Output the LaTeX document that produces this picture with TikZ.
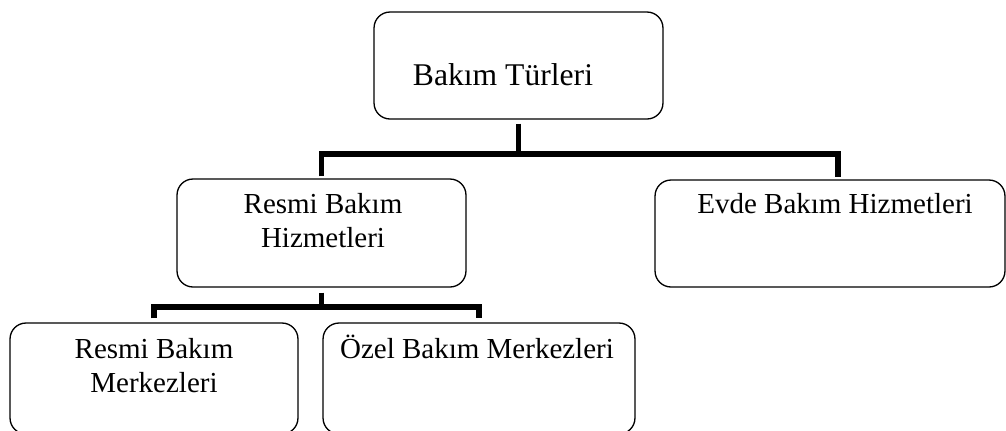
\documentclass[tikz,border=0pt]{standalone}
\usepackage{fontspec}
\setmainfont{Liberation Serif}
\usepackage{tikz}

\begin{document}
\begin{tikzpicture}[x=0.02cm,y=-0.02cm,
  kutu/.style={draw,line width=0.75pt,rounded corners=0.32cm,inner sep=0},
  yazi/.style={inner sep=0,align=center,font=\fontsize{16.5}{19.4}\selectfont},
  bag/.style={line width=3.4pt}]
  \useasboundingbox (0,0) rectangle (1006,430);
  % kutular
  \node[kutu,minimum width=5.78cm,minimum height=2.14cm] (tur) at (518.5,65.5) {};
  \node[kutu,minimum width=5.78cm,minimum height=2.16cm] (rbh) at (321.5,233) {};
  \node[kutu,minimum width=7.0cm,minimum height=2.14cm] (evde) at (830,233.5) {};
  \node[kutu,minimum width=5.76cm,minimum height=2.22cm] (rbm) at (154,378.5) {};
  \node[kutu,minimum width=6.24cm,minimum height=2.22cm] (ozel) at (479,378.5) {};
  % yazilar
  \node[yazi,anchor=base,font=\fontsize{18}{21}\selectfont] (tur-y) at (503,85) {Bakım Türleri};
  \node[yazi,anchor=north] (rbh-y) at (323,193) {Resmi Bakım\\Hizmetleri};
  \node[yazi,anchor=base] (evde-y) at (835,213) {Evde Bakım Hizmetleri};
  \node[yazi,anchor=north] (rbm-y) at (154,338) {Resmi Bakım\\Merkezleri};
  \node[yazi,anchor=base] (ozel-y) at (477,358) {Özel Bakım Merkezleri};
  % baglar
  \draw[bag] ([yshift=-0.08cm]tur.south) -- ([yshift=-0.68cm]tur.south) coordinate (b1);
  \draw[bag] ([yshift=0.04cm]rbh.north) |- (b1) -| ([xshift=0.16cm,yshift=0.04cm]evde.north);
  \draw[bag] ([yshift=-0.1cm]rbh.south) -- ([yshift=-0.38cm]rbh.south) coordinate (b2);
  \draw[bag] ([yshift=0.08cm]rbm.north) |- (b2) -| ([yshift=0.08cm]ozel.north);
\end{tikzpicture}
\end{document}
